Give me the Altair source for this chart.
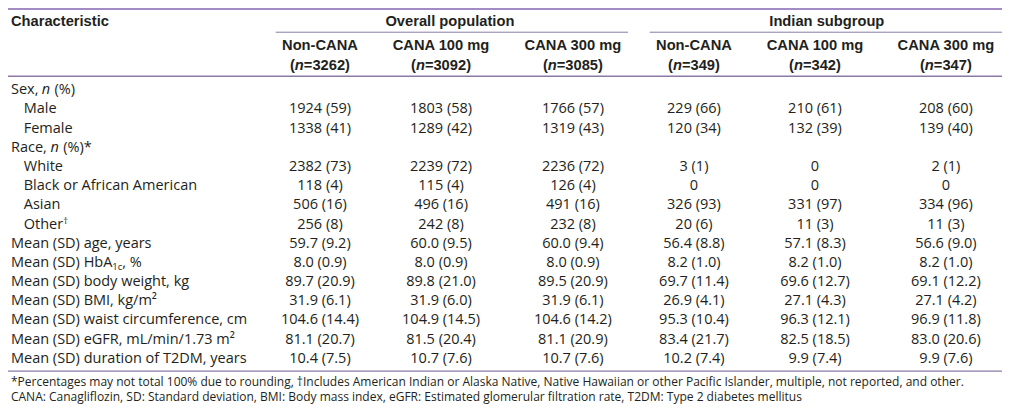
import altair as alt
import pandas as pd

# ---------------- data ----------------
groups = ["Overall population", "Indian subgroup"]
arms = ["Non-CANA", "CANA 100 mg", "CANA 300 mg", "Non-CANA", "CANA 100 mg", "CANA 300 mg"]
arm_n = ["3262", "3092", "3085", "349", "342", "347"]

# label fragments: (text, kind)  kind: r=regular, i=italic, sub, sup
row_labels = [
    [("Sex, ", "r"), ("n", "i"), (" (%)", "r")],
    [("Male", "r")],
    [("Female", "r")],
    [("Race, ", "r"), ("n", "i"), (" (%)*", "r")],
    [("White", "r")],
    [("Black or African American", "r")],
    [("Asian", "r")],
    [("Other", "r"), ("\u2020", "sup")],
    [("Mean (SD) age, years", "r")],
    [("Mean (SD) HbA", "r"), ("1c", "sub"), (", %", "r")],
    [("Mean (SD) body weight, kg", "r")],
    [("Mean (SD) BMI, kg/m\u00b2", "r")],
    [("Mean (SD) waist circumference, cm", "r")],
    [("Mean (SD) eGFR, mL/min/1.73 m\u00b2", "r")],
    [("Mean (SD) duration of T2DM, years", "r")],
]
row_indent = [False, True, True, False, True, True, True, True,
              False, False, False, False, False, False, False]

overall_non = ["", "1924 (59)", "1338 (41)", "", "2382 (73)", "118 (4)", "506 (16)", "256 (8)",
               "59.7 (9.2)", "8.0 (0.9)", "89.7 (20.9)", "31.9 (6.1)", "104.6 (14.4)", "81.1 (20.7)", "10.4 (7.5)"]
overall_100 = ["", "1803 (58)", "1289 (42)", "", "2239 (72)", "115 (4)", "496 (16)", "242 (8)",
               "60.0 (9.5)", "8.0 (0.9)", "89.8 (21.0)", "31.9 (6.0)", "104.9 (14.5)", "81.5 (20.4)", "10.7 (7.6)"]
overall_300 = ["", "1766 (57)", "1319 (43)", "", "2236 (72)", "126 (4)", "491 (16)", "232 (8)",
               "60.0 (9.4)", "8.0 (0.9)", "89.5 (20.9)", "31.9 (6.1)", "104.6 (14.2)", "81.1 (20.9)", "10.7 (7.6)"]
indian_non = ["", "229 (66)", "120 (34)", "", "3 (1)", "0", "326 (93)", "20 (6)",
              "56.4 (8.8)", "8.2 (1.0)", "69.7 (11.4)", "26.9 (4.1)", "95.3 (10.4)", "83.4 (21.7)", "10.2 (7.4)"]
indian_100 = ["", "210 (61)", "132 (39)", "", "0", "0", "331 (97)", "11 (3)",
              "57.1 (8.3)", "8.2 (1.0)", "69.6 (12.7)", "27.1 (4.3)", "96.3 (12.1)", "82.5 (18.5)", "9.9 (7.4)"]
indian_300 = ["", "208 (60)", "139 (40)", "", "2 (1)", "0", "334 (96)", "11 (3)",
              "56.6 (9.0)", "8.2 (1.0)", "69.1 (12.2)", "27.1 (4.2)", "96.9 (11.8)", "83.0 (20.6)", "9.9 (7.6)"]
columns = [overall_non, overall_100, overall_300, indian_non, indian_100, indian_300]

footnotes = [
    "*Percentages may not total 100% due to rounding, \u2020Includes American Indian or Alaska Native, "
    "Native Hawaiian or other Pacific Islander, multiple, not reported, and other.",
    "CANA: Canagliflozin, SD: Standard deviation, BMI: Body mass index, eGFR: Estimated glomerular "
    "filtration rate, T2DM: Type 2 diabetes mellitus",
]

# ---------------- layout (reference pixel grid) ----------------
W_REF, H_REF = 1010, 410
W, H = 994, 397
XS = W / W_REF

LABEL_X, INDENT_X = 3, 16
COL_X = [317, 440, 574, 697, 820, 953]
GROUP_X = [449, 832]
GROUP_SPAN = [(272, 630), (652, 1010)]
Y_TITLE, Y_ARM, Y_N = 14, 39, 60
Y_ROW0, ROW_H = 85, 19.8
Y_FOOT = [386, 401.5]

BODY_FONT, HEAD_FONT = "Open Sans", "Liberation Sans"
BODY, HEAD, FOOT, SMALL = 14.5, 14.7, 12.0, 9.5
TXT = "#231f20"
LINE = "#8c7aa6"
TOP = "#a38bc4"

OPEN = {' ': 532, ',': 500, '(': 604, ')': 604, '1': 1171, 'c': 975, 'e': 1149, 'x': 1065,
        'a': 1139, 'n': 1257, 'h': 1257, 'b': 1255, 'r': 836, 't': 723, 'M': 1849, 'S': 1116,
        'D': 1479, 'H': 1511, 'A': 1296, 'R': 1292, 'O': 1599}
ARIALB = {'(': 682, ')': 682, '=': 1196, 'n': 1251}


def tw(s, table, size):
    return sum(table.get(ch, 1139 if ch.isdigit() else 1130) for ch in s) / 2048 * size


rows = []  # text fragments


def add(layer, x, y, text):
    rows.append({"layer": layer, "x": x, "y": y, "text": text})


# header
add("head_left", LABEL_X, Y_TITLE, "Characteristic")
for g, gx in zip(groups, GROUP_X):
    add("head_center", gx, Y_TITLE, g)
for a, cx, n in zip(arms, COL_X, arm_n):
    add("head_center", cx, Y_ARM, a)
    parts = [("(", "head_left"), ("n", "head_italic"), ("=" + n + ")", "head_left")]
    total = sum(tw(p, ARIALB, HEAD) for p, _ in parts)
    off = -total / 2
    for p, lay in parts:
        add(lay, cx + off / XS, Y_N, p)
        off += tw(p, ARIALB, HEAD)

# body rows
for i, frags in enumerate(row_labels):
    y = Y_ROW0 + i * ROW_H
    x0 = INDENT_X if row_indent[i] else LABEL_X
    off = 0.0
    for text, kind in frags:
        lay = {"r": "body_left", "i": "body_italic", "sub": "sub", "sup": "sup"}[kind]
        size = SMALL if kind in ("sub", "sup") else BODY
        lead = len(text) - len(text.lstrip(" "))
        off += tw(" " * lead, OPEN, size)
        core = text.strip(" ")
        add(lay, x0 + off / XS, y, core)
        off += tw(text[lead:], OPEN, size)
    for col, cx in zip(columns, COL_X):
        if col[i]:
            add("body_center", cx, y, col[i])

for f, fy in zip(footnotes, Y_FOOT):
    add("foot", LABEL_X, fy, f)

df = pd.DataFrame(rows)

rules = pd.DataFrame([
    {"x": 0, "x2": W_REF, "y": 1, "c": TOP, "w": 2.0},
    {"x": GROUP_SPAN[0][0], "x2": GROUP_SPAN[0][1], "y": 25, "c": LINE, "w": 1.0},
    {"x": GROUP_SPAN[1][0], "x2": GROUP_SPAN[1][1], "y": 25, "c": LINE, "w": 1.0},
    {"x": 0, "x2": W_REF, "y": 70.5, "c": LINE, "w": 1.5},
    {"x": 0, "x2": W_REF, "y": 375, "c": LINE, "w": 1.2},
])

xs = alt.Scale(domain=[0, W_REF], nice=False, zero=False)
ys = alt.Scale(domain=[0, H_REF], nice=False, zero=False, reverse=True)

base = alt.Chart(df)


def layer(name, **props):
    return base.transform_filter(alt.datum.layer == name).mark_text(
        baseline="middle", color=TXT, **props
    ).encode(
        x=alt.X("x:Q", scale=xs, axis=None),
        y=alt.Y("y:Q", scale=ys, axis=None),
        text="text:N",
    )


rule_layer = alt.Chart(rules).mark_rule().encode(
    x=alt.X("x:Q", scale=xs, axis=None),
    x2="x2:Q",
    y=alt.Y("y:Q", scale=ys, axis=None),
    color=alt.Color("c:N", scale=None),
    strokeWidth=alt.StrokeWidth("w:Q", scale=None),
)

chart = alt.layer(
    rule_layer,
    layer("head_left", align="left", font=HEAD_FONT, fontSize=HEAD, fontWeight="bold"),
    layer("head_italic", align="left", font=HEAD_FONT, fontSize=HEAD, fontWeight="bold", fontStyle="italic"),
    layer("head_center", align="center", font=HEAD_FONT, fontSize=HEAD, fontWeight="bold"),
    layer("body_left", align="left", font=BODY_FONT, fontSize=BODY),
    layer("body_italic", align="left", font=BODY_FONT, fontSize=BODY, fontStyle="italic"),
    layer("sub", align="left", font=BODY_FONT, fontSize=SMALL, dy=4),
    layer("sup", align="left", font=BODY_FONT, fontSize=SMALL, dy=-4),
    layer("body_center", align="center", font=BODY_FONT, fontSize=BODY),
    layer("foot", align="left", font=BODY_FONT, fontSize=FOOT),
).properties(
    width=W, height=H, padding=0,
    autosize=alt.AutoSizeParams(type="none"),
    background="white",
).configure_view(stroke=None)

chart.save("out.html", embed_options={"renderer": "svg", "actions": False})
